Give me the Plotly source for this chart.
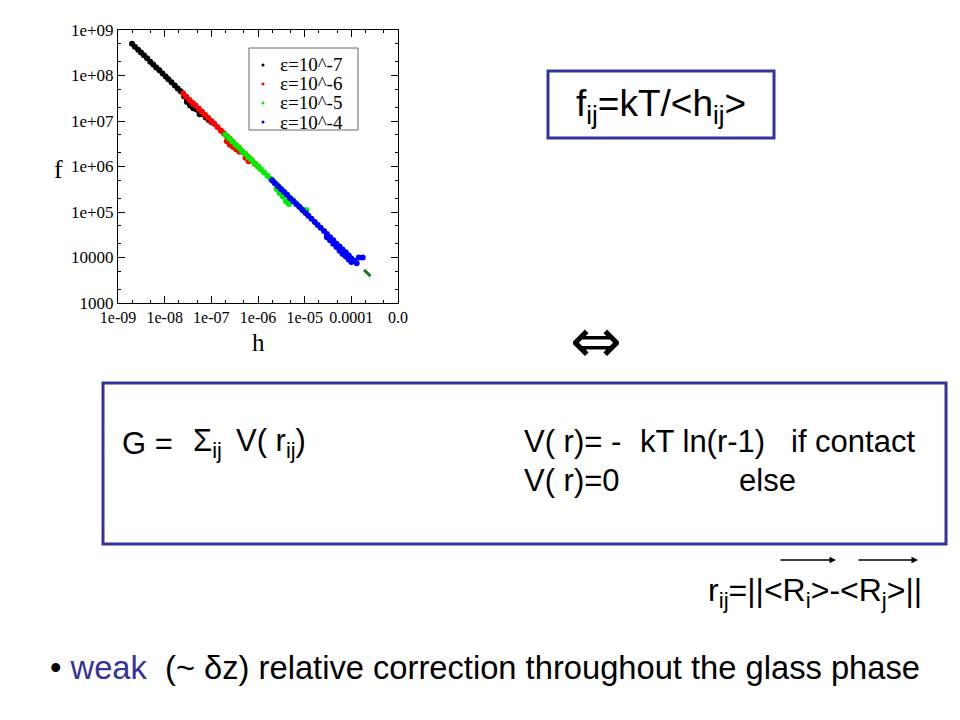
import plotly.graph_objects as go

# ---------------- data ----------------
black_h = [2.0e-9, 2.3e-9, 2.7e-9, 3.1e-9, 3.6e-9, 4.2e-9, 4.9e-9, 5.7e-9, 6.6e-9, 7.7e-9,
           9.0e-9, 1.05e-8, 1.2e-8, 1.4e-8, 1.65e-8, 1.9e-8, 2.2e-8, 2.6e-8, 3.0e-8, 3.0e-8,
           3.5e-8, 3.5e-8, 4.1e-8, 4.1e-8, 4.8e-8, 5.6e-8, 5.6e-8, 6.5e-8, 7.6e-8, 8.8e-8, 1.0e-7]
black_f = [5.0e8, 4.3e8, 3.7e8, 3.2e8, 2.8e8, 2.4e8, 2.0e8, 1.75e8, 1.5e8, 1.3e8,
           1.1e8, 9.5e7, 8.3e7, 7.1e7, 6.0e7, 5.2e7, 4.5e7, 3.5e7, 3.0e7, 2.6e7,
           2.5e7, 2.2e7, 2.2e7, 1.9e7, 1.8e7, 1.6e7, 1.4e7, 1.4e7, 1.2e7, 1.05e7, 9.5e6]

red_h = [2.5e-8, 2.9e-8, 3.4e-8, 4.0e-8, 4.6e-8, 5.4e-8, 6.3e-8, 7.3e-8, 8.5e-8, 1.0e-7,
         1.15e-7, 1.35e-7, 1.6e-7, 1.85e-7, 2.15e-7, 2.15e-7, 2.5e-7, 2.5e-7, 2.9e-7, 2.9e-7,
         3.4e-7, 3.4e-7, 4.0e-7, 4.0e-7, 4.6e-7, 5.4e-7, 5.4e-7, 6.3e-7, 6.3e-7, 7.3e-7, 8.5e-7, 1.0e-6]
red_f = [4.0e7, 3.4e7, 2.9e7, 2.5e7, 2.2e7, 1.85e7, 1.6e7, 1.37e7, 1.18e7, 1.0e7,
         8.7e6, 7.4e6, 6.2e6, 5.4e6, 4.6e6, 3.6e6, 3.0e6, 4.0e6, 3.4e6, 2.7e6,
         2.9e6, 2.4e6, 2.5e6, 2.1e6, 2.1e6, 1.85e6, 1.55e6, 1.6e6, 1.3e6, 1.37e6, 1.15e6, 1.0e6]

green_h = [2.0e-7, 2.4e-7, 2.8e-7, 3.3e-7, 3.9e-7, 4.5e-7, 5.3e-7, 6.2e-7, 7.2e-7, 8.5e-7,
           1.0e-6, 1.15e-6, 1.35e-6, 1.6e-6, 1.85e-6, 2.15e-6, 2.5e-6, 2.5e-6, 2.9e-6, 2.9e-6,
           3.4e-6, 3.4e-6, 4.0e-6, 4.0e-6, 4.6e-6, 4.6e-6, 5.4e-6, 6.3e-6, 7.3e-6, 8.5e-6, 1.0e-5, 1.1e-5]
green_f = [5.0e6, 4.2e6, 3.6e6, 3.0e6, 2.6e6, 2.2e6, 1.9e6, 1.6e6, 1.4e6, 1.18e6,
           1.0e6, 8.7e5, 7.4e5, 6.3e5, 5.4e5, 4.6e5, 4.0e5, 3.2e5, 3.4e5, 2.6e5,
           2.9e5, 2.2e5, 2.5e5, 1.7e5, 2.1e5, 1.5e5, 1.85e5, 1.6e5, 1.37e5, 1.18e5, 1.0e5, 1.1e5]

blue_h = [2.0e-6, 2.3e-6, 2.7e-6, 3.1e-6, 3.6e-6, 4.2e-6, 4.9e-6, 5.7e-6, 6.6e-6, 7.7e-6,
          9.0e-6, 1.05e-5, 1.2e-5, 1.4e-5, 1.65e-5, 1.9e-5, 2.2e-5, 2.6e-5, 3.0e-5, 3.0e-5,
          3.5e-5, 3.5e-5, 4.1e-5, 4.1e-5, 4.8e-5, 4.8e-5, 5.6e-5, 5.6e-5, 6.5e-5, 6.5e-5,
          7.6e-5, 7.6e-5, 8.8e-5, 8.8e-5, 1.0e-4, 1.0e-4, 1.15e-4, 1.3e-4, 1.45e-4, 1.75e-4]
blue_f = [5.0e5, 4.3e5, 3.7e5, 3.2e5, 2.8e5, 2.4e5, 2.0e5, 1.75e5, 1.5e5, 1.3e5,
          1.1e5, 9.5e4, 8.3e4, 7.1e4, 6.0e4, 5.2e4, 4.5e4, 3.8e4, 3.3e4, 2.8e4,
          2.8e4, 2.4e4, 2.4e4, 2.0e4, 2.0e4, 1.7e4, 1.75e4, 1.4e4, 1.5e4, 1.2e4,
          1.3e4, 1.05e4, 1.1e4, 9.0e3, 9.5e3, 8.0e3, 8.5e3, 7.5e3, 1.0e4, 1.0e4]

fit_h = [2.0e-9, 2.6e-4]
fit_f = [5.0e8, 3.85e3]

series_names = ["ε=10^-7", "ε=10^-6", "ε=10^-5", "ε=10^-4"]
series_colors = ["#000000", "#ff0000", "#00ee00", "#0000ff"]

x_tickvals = [1e-9, 1e-8, 1e-7, 1e-6, 1e-5, 1e-4, 1e-3]
x_ticktext = ["1e-09", "1e-08", "1e-07", "1e-06", "1e-05", "0.0001", "0.0"]
y_tickvals = [1e3, 1e4, 1e5, 1e6, 1e7, 1e8, 1e9]
y_ticktext = ["1000", "10000", "1e+05", "1e+06", "1e+07", "1e+08", "1e+09"]

# ---------------- figure ----------------
W, H = 960, 720
OFF = 8  # page body margin in the browser
def px(x):
    return (x - OFF) / W
def py(y):
    return 1 - (y - OFF) / H

fig = go.Figure()
fig.add_trace(go.Scatter(x=fit_h, y=fit_f, mode="lines", showlegend=False,
                         line=dict(color="#1f7a1f", width=3, dash="dash")))
for hs, fs, name, col in zip([black_h, red_h, green_h, blue_h],
                             [black_f, red_f, green_f, blue_f],
                             series_names, series_colors):
    fig.add_trace(go.Scatter(x=hs, y=fs, mode="markers", name=name, showlegend=False,
                             marker=dict(color=col, size=6, line=dict(width=0))))

serif = "Liberation Serif"
sans = "Liberation Sans, Arial, sans-serif"

axis_common = dict(type="log", showgrid=False, zeroline=False, showline=True,
                   linecolor="black", linewidth=1, mirror="ticks", ticks="inside",
                   ticklen=7, tickcolor="black", automargin=False,
                   minor=dict(ticks="inside", ticklen=3, tickcolor="black", showgrid=False))

fig.update_xaxes(**axis_common, range=[-9, -3], tickvals=x_tickvals, ticktext=x_ticktext,
                 tickfont=dict(family=serif, size=16, color="black"),
                 domain=[px(118), px(398)])
fig.update_yaxes(**axis_common, range=[3, 9], tickvals=y_tickvals, ticktext=y_ticktext,
                 tickfont=dict(family=serif, size=17, color="black"),
                 domain=[py(303), py(30)])

fig.update_layout(width=W, height=H, autosize=False, margin=dict(l=0, r=0, t=0, b=0, pad=0),
                  paper_bgcolor="white", plot_bgcolor="white", showlegend=False)

ann = []
shapes = []
def text(x, y, t, size, family=sans, color="black", xanchor="left", yanchor="middle"):
    ann.append(dict(x=px(x), y=py(y), xref="paper", yref="paper", text=t, showarrow=False,
                    xanchor=xanchor, yanchor=yanchor,
                    font=dict(family=family, size=size, color=color)))

# legend drawn as a box inside the plot
shapes.append(dict(type="rect", xref="paper", yref="paper", x0=px(249), x1=px(358),
                   y0=py(130), y1=py(48), line=dict(color="#666666", width=1),
                   fillcolor="white", layer="above"))
for i, (name, col) in enumerate(zip(series_names, series_colors)):
    yc = 65 + 19 * i
    shapes.append(dict(type="circle", xref="paper", yref="paper",
                       x0=px(261.5), x1=px(264.5), y0=py(yc + 1.5), y1=py(yc - 1.5),
                       fillcolor=col, line=dict(width=0), layer="above"))
    text(278, yc, name, 19, family=serif)

text(58, 169, "f", 26, family=serif, xanchor="center")
text(258, 342, "h", 25, family=serif, xanchor="center")

text(661, 106, "f<sub>ij</sub>=kT/&lt;h<sub>ij</sub>&gt;", 37, xanchor="center")
text(596, 340, "⇔", 62, family="DejaVu Sans", xanchor="center")

text(120, 443, "G =", 31)
text(191, 443, "Σ<sub>ij</sub>", 31)
text(234, 443, "V( r<sub>ij</sub>)", 31)
text(522, 441, "V( r)= -", 31)
text(638, 441, "kT ln(r-1)", 31)
text(789, 441, "if contact", 31)
text(522, 480, "V( r)=0", 31)
text(737, 480, "else", 31)

text(706, 592, "r<sub>ij</sub>=||&lt;R<sub>i</sub>&gt;-&lt;R<sub>j</sub>&gt;||", 32)

text(48, 667, "•&nbsp;<span style='color:#333399'>weak</span>&nbsp;&nbsp;(~ δz) relative correction throughout the glass phase", 32.7)

# arrows above R vectors
for x0, x1 in [(779, 836), (857, 918)]:
    ann.append(dict(x=px(x1), y=py(560), ax=-(x1 - x0), ay=0, xref="paper", yref="paper",
                    showarrow=True, arrowhead=2,
                    arrowsize=1, arrowwidth=1.3, arrowcolor="black", text=""))

shapes += [
    dict(type="rect", xref="paper", yref="paper", x0=px(548), x1=px(774), y0=py(138), y1=py(71),
         line=dict(color="#333399", width=3)),
    dict(type="rect", xref="paper", yref="paper", x0=px(103), x1=px(946), y0=py(544), y1=py(383),
         line=dict(color="#333399", width=3)),
]

fig.update_layout(annotations=ann, shapes=shapes)

fig.write_html("out.html")
